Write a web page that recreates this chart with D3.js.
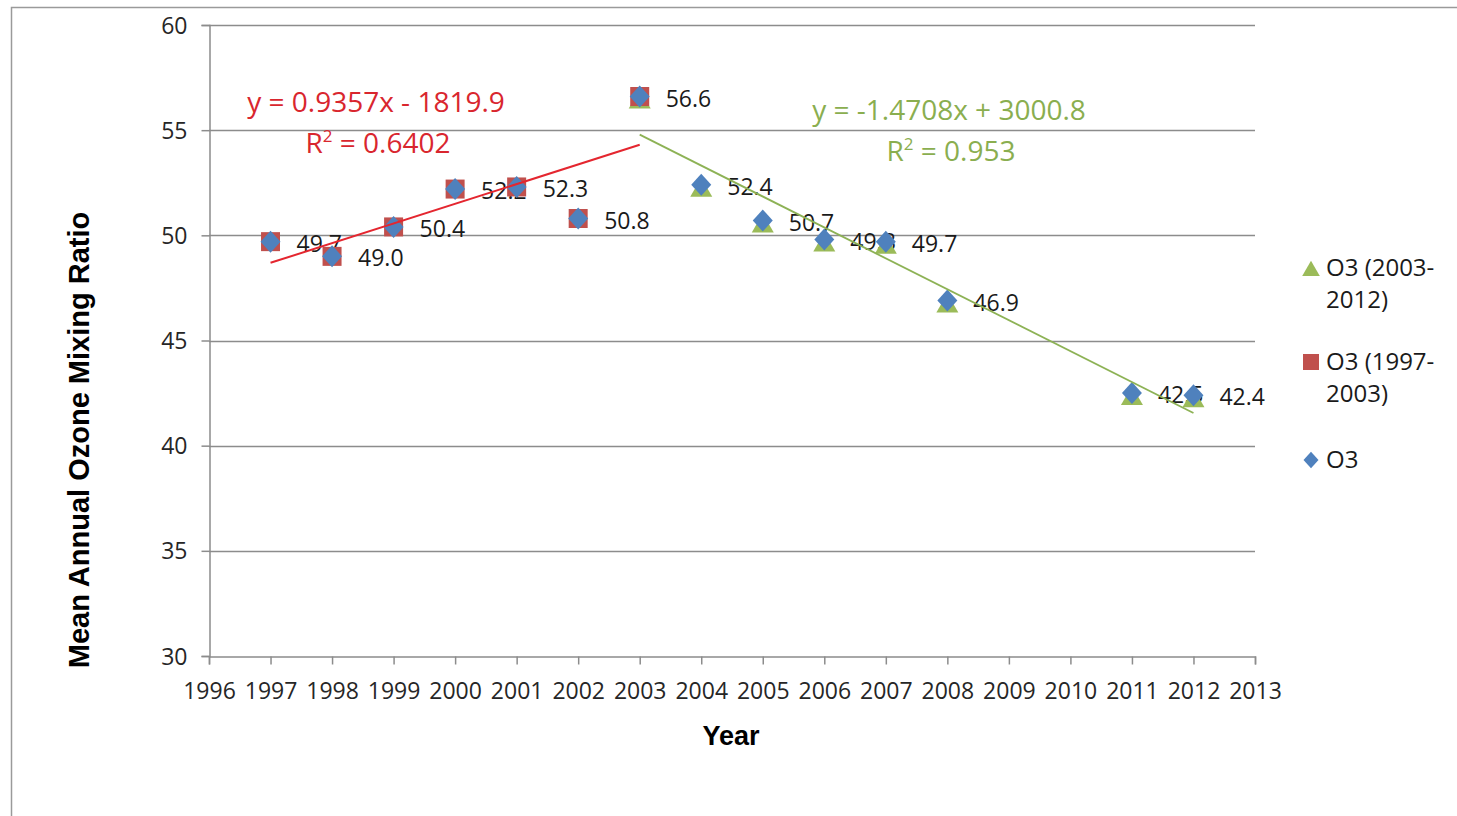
<!DOCTYPE html>
<html>
<head>
<meta charset="utf-8">
<script src="https://cdn.jsdelivr.net/npm/d3@7"></script>
<style>
  body { margin: 0; background: #fff; }
  svg { display: block; }
</style>
</head>
<body>
<svg id="chart" width="1457" height="816"></svg>
<script>
// data
var years = [1997, 1998, 1999, 2000, 2001, 2002, 2003, 2004, 2005, 2006, 2007, 2008, 2011, 2012];
var o3 = [49.7, 49.0, 50.4, 52.2, 52.3, 50.8, 56.6, 52.4, 50.7, 49.8, 49.7, 46.9, 42.5, 42.4];

var years9703 = [1997, 1998, 1999, 2000, 2001, 2002, 2003];
var o3_9703 = [49.7, 49.0, 50.4, 52.2, 52.3, 50.8, 56.6];

var years0312 = [2003, 2004, 2005, 2006, 2007, 2008, 2011, 2012];
var o3_0312 = [56.6, 52.4, 50.7, 49.8, 49.7, 46.9, 42.5, 42.4];

// trendline fits [slope, intercept] as printed on the chart
var fit9703 = [0.9357, -1819.9];
var fit0312 = [-1.4708, 3000.8];
var r2Labels = ["0.6402", "0.953"];

var xTicks = d3.range(1996, 2014);
var yTicks = [30, 35, 40, 45, 50, 55, 60];

var legendItems = [
    {shape: "triangle", color: "#9BBB59", lines: ["O3 (2003-", "2012)"]},
    {shape: "square", color: "#C0504D", lines: ["O3 (1997-", "2003)"]},
    {shape: "diamond", color: "#4F81BD", lines: ["O3"]}
];

var svg = d3.select("#chart");
var font = "'Open Sans', sans-serif";

var x = d3.scaleLinear().domain([1996, 2013]).range([209, 1255]);
var y = d3.scaleLinear().domain([30, 60]).range([656, 25]);

// outer chart border
svg.append("rect")
    .attr("x", 11.5).attr("y", 7.5)
    .attr("width", 1500).attr("height", 900)
    .attr("fill", "none").attr("stroke", "#9a9a9a").attr("stroke-width", 1.5);

// gridlines
svg.append("g").selectAll("line")
    .data(yTicks.filter(function(d){ return d > 30; }))
    .enter().append("line")
    .attr("x1", 209).attr("x2", 1255)
    .attr("y1", function(d){ return Math.round(y(d)) + 0.5; })
    .attr("y2", function(d){ return Math.round(y(d)) + 0.5; })
    .attr("stroke", "#8c8c8c").attr("stroke-width", 1.5);

// axes
var yAxis = svg.append("g")
    .attr("transform", "translate(209.5,0)")
    .call(d3.axisLeft(y).tickValues(yTicks).tickSize(8).tickPadding(14));
var xAxis = svg.append("g")
    .attr("transform", "translate(0," + (Math.round(y(30)) + 0.5) + ")")
    .call(d3.axisBottom(x).tickValues(xTicks).tickSize(8).tickPadding(18).tickFormat(d3.format("d")));

[yAxis, xAxis].forEach(function(ax){
    ax.select(".domain").attr("stroke", "#8c8c8c").attr("stroke-width", 1.5);
    ax.selectAll(".tick line").attr("stroke", "#8c8c8c").attr("stroke-width", 1.5);
    ax.selectAll(".tick text")
        .attr("fill", "#262626")
        .style("font-family", font)
        .style("font-size", "23px");
});
yAxis.selectAll(".tick text").attr("dy", "0.35em");
xAxis.selectAll(".tick text").attr("dy", "0.71em");

// axis titles
svg.append("text")
    .attr("transform", "translate(89,440) rotate(-90)")
    .attr("text-anchor", "middle")
    .style("font-family", "'Liberation Sans', Arial, sans-serif")
    .style("font-weight", "bold")
    .style("font-size", "29px")
    .attr("fill", "#000")
    .text("Mean Annual Ozone Mixing Ratio");

svg.append("text")
    .attr("x", 731).attr("y", 745)
    .attr("text-anchor", "middle")
    .style("font-family", "'Liberation Sans', Arial, sans-serif")
    .style("font-weight", "bold")
    .style("font-size", "27px")
    .attr("fill", "#000")
    .text("Year");

// data labels (O3 series)
svg.append("g").selectAll("text")
    .data(years.map(function(d, i){ return [d, o3[i]]; }))
    .enter().append("text")
    .attr("x", function(d){ return x(d[0]) + 26; })
    .attr("y", function(d){ return y(d[1]) + 2; })
    .attr("dy", "0.35em")
    .style("font-family", font)
    .style("font-size", "23px")
    .attr("fill", "#1a1a1a")
    .text(function(d){ return d3.format(".1f")(d[1]); });

// marker shapes
function shapePath(shape, s) {
    if (shape === "triangle") return "M0," + (-s * 0.45) + "L" + (s * 0.55) + "," + (s * 0.5) + "L" + (-s * 0.55) + "," + (s * 0.5) + "Z";
    if (shape === "square") return "M" + (-s / 2) + "," + (-s / 2) + "h" + s + "v" + s + "h" + (-s) + "Z";
    return "M0," + (-s * 0.55) + "L" + (s * 0.5) + ",0L0," + (s * 0.55) + "L" + (-s * 0.5) + ",0Z";
}

function drawSeries(xs, ys, shape, color, size, dy) {
    svg.append("g").selectAll("path")
        .data(xs.map(function(d, i){ return [d, ys[i]]; }))
        .enter().append("path")
        .attr("transform", function(d){ return "translate(" + x(d[0]) + "," + (y(d[1]) + dy) + ")"; })
        .attr("d", shapePath(shape, size))
        .attr("fill", color);
}

drawSeries(years0312, o3_0312, "triangle", "#9BBB59", 20, 2);
drawSeries(years9703, o3_9703, "square", "#C0504D", 19, 0);
drawSeries(years, o3, "diamond", "#4F81BD", 20, 0);

// trendlines
function drawTrend(xs, fit, color, width) {
    var x0 = d3.min(xs), x1 = d3.max(xs);
    svg.append("line")
        .attr("x1", x(x0)).attr("y1", y(fit[0] * x0 + fit[1]))
        .attr("x2", x(x1)).attr("y2", y(fit[0] * x1 + fit[1]))
        .attr("stroke", color).attr("stroke-width", width);
}
drawTrend(years9703, fit9703, "#E4262F", 2);
drawTrend(years0312, fit0312, "#8DB255", 1.8);

// trend equations
function fmtFit(fit) {
    var b = fit[1];
    return "y = " + fit[0] + "x " + (b < 0 ? "- " : "+ ") + Math.abs(b);
}
function drawEquation(fit, r2, cx, cy, color) {
    svg.append("text")
        .attr("x", cx).attr("y", cy)
        .attr("text-anchor", "middle")
        .style("font-family", font).style("font-size", "28px")
        .attr("fill", color)
        .text(fmtFit(fit));
    var t = svg.append("text")
        .attr("x", cx + 2).attr("y", cy + 41)
        .attr("text-anchor", "middle")
        .style("font-family", font).style("font-size", "28px")
        .attr("fill", color);
    t.append("tspan").text("R");
    t.append("tspan").attr("dy", -11).style("font-size", "17px").text("2");
    t.append("tspan").attr("dy", 11).text(" = " + r2);
}
drawEquation(fit9703, r2Labels[0], 376, 112, "#D9262E");
drawEquation(fit0312, r2Labels[1], 949, 120, "#8AAE4F");

// legend
var legend = svg.append("g").selectAll("g")
    .data(legendItems)
    .enter().append("g")
    .attr("transform", function(d, i){ return "translate(1311," + [268, 362, 460][i] + ")"; });

legend.append("path")
    .attr("d", function(d){ return shapePath(d.shape, d.shape === "diamond" ? 15 : 16); })
    .attr("fill", function(d){ return d.color; });

legend.append("text")
    .style("font-family", font).style("font-size", "24px")
    .attr("fill", "#1a1a1a")
    .each(function(d){
        var t = d3.select(this);
        d.lines.forEach(function(line, j){
            t.append("tspan")
                .attr("x", 15)
                .attr("y", j * 32)
                .attr("dy", "0.35em")
                .text(line);
        });
    });
</script>
</body>
</html>
